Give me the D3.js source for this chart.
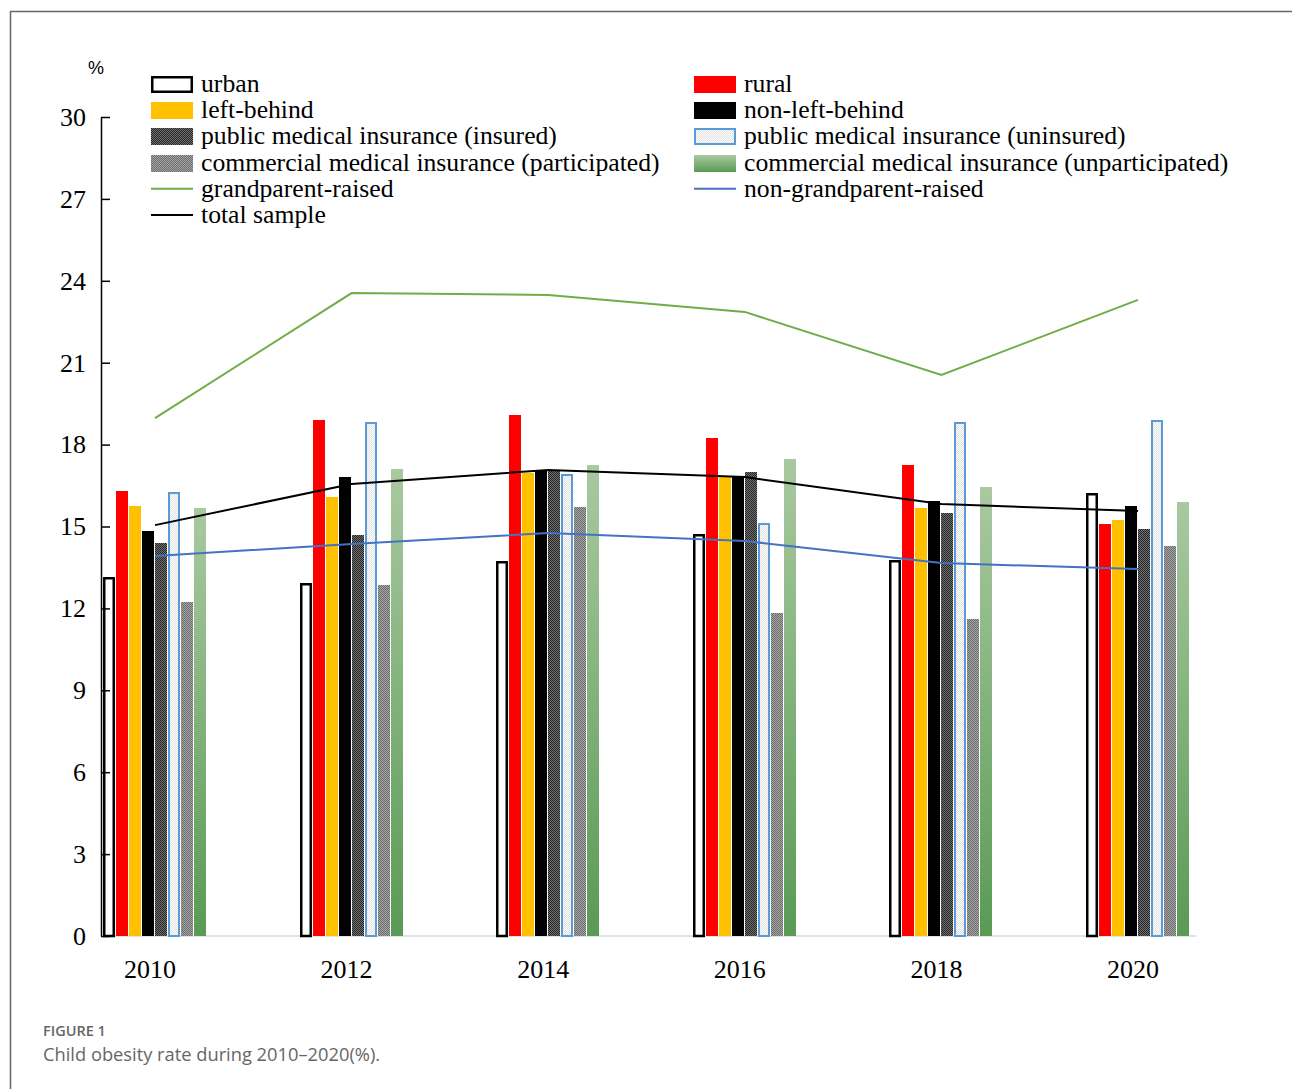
<!DOCTYPE html>
<html>
<head>
<meta charset="utf-8">
<script src="https://cdn.jsdelivr.net/npm/d3@7"></script>
<style>
  body { margin: 0; background: #fff; }
  svg text { font-family: "Liberation Serif", "Times New Roman", serif; }
</style>
</head>
<body>
<div id="chart"></div>
<script>
// categories and values (%)
const years = ["2010", "2012", "2014", "2016", "2018", "2020"];
const urban = [13.15, 12.93, 13.72, 14.71, 13.79, 16.23];
const rural = [16.3, 18.9, 19.07, 18.25, 17.25, 15.08];
const leftBehind = [15.75, 16.08, 16.96, 16.85, 15.68, 15.25];
const nonLeftBehind = [14.82, 16.82, 17.02, 16.85, 15.94, 15.76];
const pubInsured = [14.4, 14.7, 17.02, 17.0, 15.49, 14.9];
const pubUninsured = [16.26, 18.83, 16.94, 15.13, 18.83, 18.91];
const commPart = [12.23, 12.86, 15.7, 11.83, 11.63, 14.3];
const commUnpart = [15.68, 17.12, 17.25, 17.47, 16.43, 15.9];
const grandRaised = [18.97, 23.55, 23.48, 22.86, 20.55, 23.3];
const nonGrandRaised = [13.92, 14.36, 14.76, 14.47, 13.66, 13.44];
const totalSample = [15.05, 16.56, 17.07, 16.81, 15.82, 15.57];
const yTicks = [0, 3, 6, 9, 12, 15, 18, 21, 24, 27, 30];

const width = 1292, height = 1089;

const svg = d3.select("#chart").append("svg")
    .attr("width", width)
    .attr("height", height);

// patterns and gradient
const defs = svg.append("defs");

// fine checker texture, 4x4 tile
function checker(id, a, b) {
    const p = defs.append("pattern")
        .attr("id", id)
        .attr("patternUnits", "userSpaceOnUse")
        .attr("width", 4).attr("height", 4);
    p.append("rect").attr("width", 4).attr("height", 4).attr("fill", b);
    for (let i = 0; i < 4; i++) {
        for (let j = 0; j < 4; j++) {
            if ((i + j) % 2 === 0) {
                p.append("rect")
                    .attr("x", i).attr("y", j)
                    .attr("width", 1).attr("height", 1)
                    .attr("fill", a)
                    .attr("shape-rendering", "crispEdges");
            }
        }
    }
}
checker("darkDots", "#262626", "#707070");
checker("greyDots", "#6c6c6c", "#a6a6a6");
checker("lightDots", "#ffffff", "#e0e0e0");

const grad = defs.append("linearGradient")
    .attr("id", "greenGrad")
    .attr("x1", 0).attr("y1", 0).attr("x2", 0).attr("y2", 1);
grad.append("stop").attr("offset", "0%").attr("stop-color", "#a9c9a0");
grad.append("stop").attr("offset", "100%").attr("stop-color", "#5a9a55");

// series definitions for bars
const barSeries = [
    { name: "urban", values: urban, fill: "#fff", stroke: "#000", sw: 2.5 },
    { name: "rural", values: rural, fill: "#ff0000" },
    { name: "left-behind", values: leftBehind, fill: "#ffc000" },
    { name: "non-left-behind", values: nonLeftBehind, fill: "#000" },
    { name: "public medical insurance (insured)", values: pubInsured, fill: "url(#darkDots)" },
    { name: "public medical insurance (uninsured)", values: pubUninsured, fill: "url(#lightDots)", stroke: "#5b9bd5", sw: 2 },
    { name: "commercial medical insurance (participated)", values: commPart, fill: "url(#greyDots)" },
    { name: "commercial medical insurance (unparticipated)", values: commUnpart, fill: "url(#greenGrad)" }
];
const lineSeries = [
    { name: "grandparent-raised", values: grandRaised, color: "#70ad47" },
    { name: "non-grandparent-raised", values: nonGrandRaised, color: "#4472c4" },
    { name: "total sample", values: totalSample, color: "#000" }
];

// frame around the figure
svg.append("path")
    .attr("d", "M10.5,1089 V11.5 H1292")
    .attr("fill", "none")
    .attr("stroke", "#666")
    .attr("stroke-width", 1.5);

// scales
const x = d3.scalePoint().domain(years).range([155, 1138]);
const y = d3.scaleLinear().domain([0, 30]).range([936, 117]);
const xs = d3.scaleBand()
    .domain(barSeries.map(d => d.name))
    .range([-52, 52])
    .paddingInner(0.06)
    .round(true);

// x baseline
svg.append("line")
    .attr("x1", 101).attr("x2", 1196)
    .attr("y1", y(0)).attr("y2", y(0))
    .attr("stroke", "#d9d9d9")
    .attr("stroke-width", 1.5);

// bars
barSeries.forEach(s => {
    const inset = s.stroke ? s.sw / 2 : 0;
    svg.append("g").selectAll("rect")
        .data(s.values)
        .enter().append("rect")
        .attr("x", (d, i) => Math.round(x(years[i]) + xs(s.name)) + inset)
        .attr("y", d => Math.round(y(d)) + inset)
        .attr("width", xs.bandwidth() - 2 * inset)
        .attr("height", d => y(0) - Math.round(y(d)) - inset)
        .attr("fill", s.fill)
        .attr("stroke", s.stroke || "none")
        .attr("stroke-width", s.sw || 0);
});

// lines
const line = d3.line()
    .x((d, i) => x(years[i]))
    .y(d => y(d));
lineSeries.forEach(s => {
    svg.append("path")
        .datum(s.values)
        .attr("d", line)
        .attr("fill", "none")
        .attr("stroke", s.color)
        .attr("stroke-width", 2);
});

// y axis, ticks pointing inward
const yAxis = svg.append("g")
    .attr("transform", "translate(101,0)")
    .call(d3.axisLeft(y).tickValues(yTicks).tickSize(-9).tickSizeOuter(0).tickPadding(15));
yAxis.select(".domain").attr("stroke", "#000").attr("stroke-width", 1.5);
yAxis.selectAll(".tick line").attr("stroke", "#000").attr("stroke-width", 1.5);
yAxis.selectAll(".tick text")
    .style("font-family", "'Liberation Serif', serif")
    .style("font-size", "26px")
    .attr("fill", "#000");

svg.append("text")
    .attr("x", 96).attr("y", 74)
    .attr("text-anchor", "middle")
    .style("font-family", "'Liberation Sans', Arial, sans-serif")
    .style("font-size", "18px")
    .text("%");

// x labels
svg.append("g").selectAll("text")
    .data(years)
    .enter().append("text")
    .attr("x", d => x(d) - 5)
    .attr("y", 978)
    .attr("text-anchor", "middle")
    .style("font-size", "26px")
    .text(d => d);

// legend
const leftCol = ["urban", "left-behind", "public medical insurance (insured)",
    "commercial medical insurance (participated)", "grandparent-raised", "total sample"];
const rightCol = ["rural", "non-left-behind", "public medical insurance (uninsured)",
    "commercial medical insurance (unparticipated)", "non-grandparent-raised"];

function drawLegend(names, x0) {
    const g = svg.append("g").attr("transform", `translate(${x0},0)`);
    names.forEach((n, i) => {
        const cy = 84 + i * 26.2;
        const bar = barSeries.find(s => s.name === n);
        const ln = lineSeries.find(s => s.name === n);
        if (bar) {
            const inset = bar.stroke ? bar.sw / 2 : 0;
            g.append("rect")
                .attr("x", inset).attr("y", Math.round(cy - 8) + inset)
                .attr("width", 42 - 2 * inset).attr("height", 17 - 2 * inset)
                .attr("fill", bar.fill)
                .attr("stroke", bar.stroke || "none")
                .attr("stroke-width", bar.sw || 0);
        } else {
            g.append("line")
                .attr("x1", 0).attr("x2", 42)
                .attr("y1", cy).attr("y2", cy)
                .attr("stroke", ln.color)
                .attr("stroke-width", 2);
        }
        g.append("text")
            .attr("x", 50).attr("y", cy + 8)
            .style("font-size", "25.7px")
            .text(n);
    });
}
drawLegend(leftCol, 151);
drawLegend(rightCol, 694);

// caption
svg.append("text")
    .attr("x", 43).attr("y", 1036)
    .style("font-family", "'Open Sans', sans-serif")
    .style("font-size", "14.5px")
    .style("font-weight", "600")
    .attr("fill", "#666")
    .text("FIGURE 1");
svg.append("text")
    .attr("x", 43).attr("y", 1061)
    .style("font-family", "'Open Sans', sans-serif")
    .style("font-size", "18.3px")
    .attr("fill", "#666")
    .text("Child obesity rate during 2010–2020(%).");
</script>
</body>
</html>
